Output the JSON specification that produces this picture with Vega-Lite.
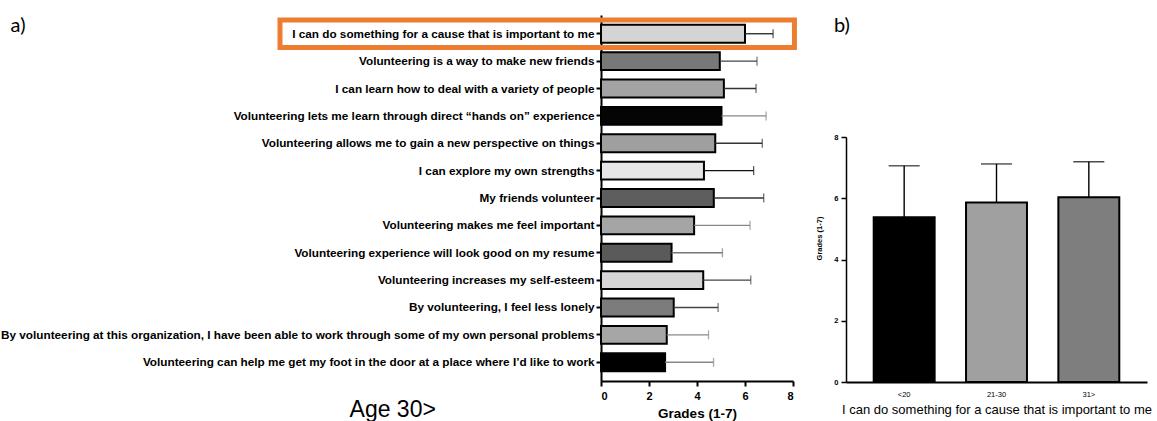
{
  "$schema": "https://vega.github.io/schema/vega-lite/v6.json",
  "padding": {"left": 0, "top": 15, "right": 0, "bottom": 0},
  "background": "white",
  "spacing": 18,
  "resolve": {"scale": {"fill": "independent", "color": "independent", "stroke": "independent"}},
  "title": {"text": "Age 30>", "orient": "bottom", "anchor": "start", "frame": "bounds", "dx": 349, "offset": -21, "fontSize": 23, "font": "Liberation Sans", "fontWeight": "normal", "color": "black"},
  "config": {
    "view": {"stroke": null},
    "axis": {"domainColor": "black", "tickColor": "black", "labelColor": "black", "titleColor": "black", "grid": false, "labelFont": "Liberation Sans", "titleFont": "Liberation Sans"}
  },
  "hconcat": [
    {
      "width": 192,
      "height": 366,
      "title": {"text": "a)", "anchor": "start", "frame": "bounds", "dx": 10, "offset": -21, "fontSize": 20, "font": "Lato", "fontWeight": "normal", "color": "black"},
      "data": {"values": [
        {"item": "I can do something for a cause that is important to me", "mean": 6.0, "upper": 7.17},
        {"item": "Volunteering is a way to make new friends", "mean": 4.95, "upper": 6.5},
        {"item": "I can learn how to deal with a variety of people", "mean": 5.12, "upper": 6.46},
        {"item": "Volunteering lets me learn through direct “hands on” experience", "mean": 5.02, "upper": 6.88},
        {"item": "Volunteering allows me to gain a new perspective on things", "mean": 4.76, "upper": 6.72},
        {"item": "I can explore my own strengths", "mean": 4.29, "upper": 6.36},
        {"item": "My friends volunteer", "mean": 4.7, "upper": 6.78},
        {"item": "Volunteering makes me feel important", "mean": 3.88, "upper": 6.21},
        {"item": "Volunteering experience will look good on my resume", "mean": 2.94, "upper": 5.06},
        {"item": "Volunteering increases my self-esteem", "mean": 4.26, "upper": 6.24},
        {"item": "By volunteering, I feel less lonely", "mean": 3.03, "upper": 4.88},
        {"item": "By volunteering at this organization, I have been able to work through some of my own personal problems", "mean": 2.74, "upper": 4.48},
        {"item": "Volunteering can help me get my foot in the door at a place where I’d like to work", "mean": 2.67, "upper": 4.69}
      ]},
      "encoding": {
        "y": {
          "field": "item", "type": "nominal", "sort": null,
          "scale": {"paddingInner": 0.35, "paddingOuter": 0.36},
          "axis": {"title": null, "labelFontSize": 11.75, "labelFontWeight": "bold", "labelLimit": 1000, "labelPadding": 2, "tickSize": 5, "tickWidth": 2, "domainWidth": 2}
        }
      },
      "layer": [
        {
          "mark": {"type": "bar", "stroke": "black", "strokeWidth": 2},
          "encoding": {
            "x": {"field": "mean", "type": "quantitative", "scale": {"domain": [0, 8], "nice": false},
              "axis": {"values": [0, 2, 4, 6, 8], "title": "Grades (1-7)", "labelFontSize": 11, "labelFontWeight": "bold", "labelPadding": 4, "tickSize": 5, "tickWidth": 2, "domainWidth": 2, "titleFontSize": 13.5, "titleFontWeight": "bold", "titlePadding": 5}},
            "fill": {"field": "item", "type": "nominal", "sort": null, "legend": null,
              "scale": {"range": ["#d4d4d4", "#787878", "#a3a3a3", "#050505", "#9f9f9f", "#e6e6e6", "#5e5e5e", "#a5a5a5", "#5a5a5a", "#d6d6d6", "#7c7c7c", "#a6a6a6", "#000000"]}}
          }
        },
        {
          "mark": {"type": "rule", "strokeWidth": 1.3},
          "encoding": {
            "x": {"field": "mean", "type": "quantitative"},
            "x2": {"field": "upper"},
            "stroke": {"field": "item", "type": "nominal", "sort": null, "legend": null,
              "scale": {"range": ["#222222", "#444444", "#333333", "#888888", "#333333", "#111111", "#333333", "#888888", "#777777", "#444444", "#444444", "#888888", "#888888"]}}
          }
        },
        {
          "mark": {"type": "tick", "thickness": 1.3, "size": 9, "orient": "vertical"},
          "encoding": {
            "x": {"field": "upper", "type": "quantitative"},
            "color": {"field": "item", "type": "nominal", "sort": null, "legend": null,
              "scale": {"range": ["#222222", "#444444", "#333333", "#888888", "#333333", "#111111", "#333333", "#888888", "#777777", "#444444", "#444444", "#888888", "#888888"]}}
          }
        },
        {
          "transform": [{"filter": "datum.item === 'I can do something for a cause that is important to me'"}],
          "mark": {"type": "bar", "fill": null, "fillOpacity": 0, "stroke": "#ED7D31", "strokeWidth": 5, "height": {"band": 1.55}},
          "encoding": {
            "x": {"datum": -13.375},
            "x2": {"datum": 8.06}
          }
        }
      ]
    },
    {
      "width": 301,
      "height": 367,
      "title": {"text": "b)", "anchor": "start", "frame": "group", "dx": -12, "offset": -21, "fontSize": 20, "font": "Lato", "fontWeight": "normal", "color": "black"},
      "data": {"values": [
        {"age": "<20", "mean": 5.38, "upper": 7.06},
        {"age": "21-30", "mean": 5.86, "upper": 7.12},
        {"age": "31>", "mean": 6.03, "upper": 7.19}
      ]},
      "encoding": {
        "x": {
          "field": "age", "type": "nominal", "sort": null,
          "scale": {"paddingInner": 0.34, "paddingOuter": 0.3},
          "axis": {"title": "I can do something for a cause that is important to me", "labelAngle": 0, "labelFontSize": 7.5, "ticks": false, "labelPadding": 8, "domainWidth": 2, "titleFontSize": 13, "titleFontWeight": "normal", "titlePadding": 6}
        }
      },
      "layer": [
        {
          "mark": {"type": "bar", "stroke": "black", "strokeWidth": 2},
          "encoding": {
            "y": {"field": "mean", "type": "quantitative", "scale": {"domain": [0, 8], "nice": false, "range": [367, 122]},
              "axis": {"values": [0, 2, 4, 6, 8], "title": "Grades (1-7)", "titleY": 223, "labelFontSize": 7.5, "labelFontWeight": "bold", "labelPadding": 3, "tickSize": 5, "tickWidth": 1.5, "domainWidth": 1.5, "titleFontSize": 7.5, "titleFontWeight": "bold", "titlePadding": 10}},
            "fill": {"field": "age", "type": "nominal", "sort": null, "legend": null,
              "scale": {"range": ["#000000", "#a0a0a0", "#7e7e7e"]}}
          }
        },
        {
          "mark": {"type": "rule", "color": "black", "strokeWidth": 1.4},
          "encoding": {
            "y": {"field": "mean", "type": "quantitative"},
            "y2": {"field": "upper"}
          }
        },
        {
          "mark": {"type": "tick", "color": "black", "thickness": 1.4, "size": 31, "orient": "horizontal"},
          "encoding": {
            "y": {"field": "upper", "type": "quantitative"}
          }
        }
      ]
    }
  ]
}
